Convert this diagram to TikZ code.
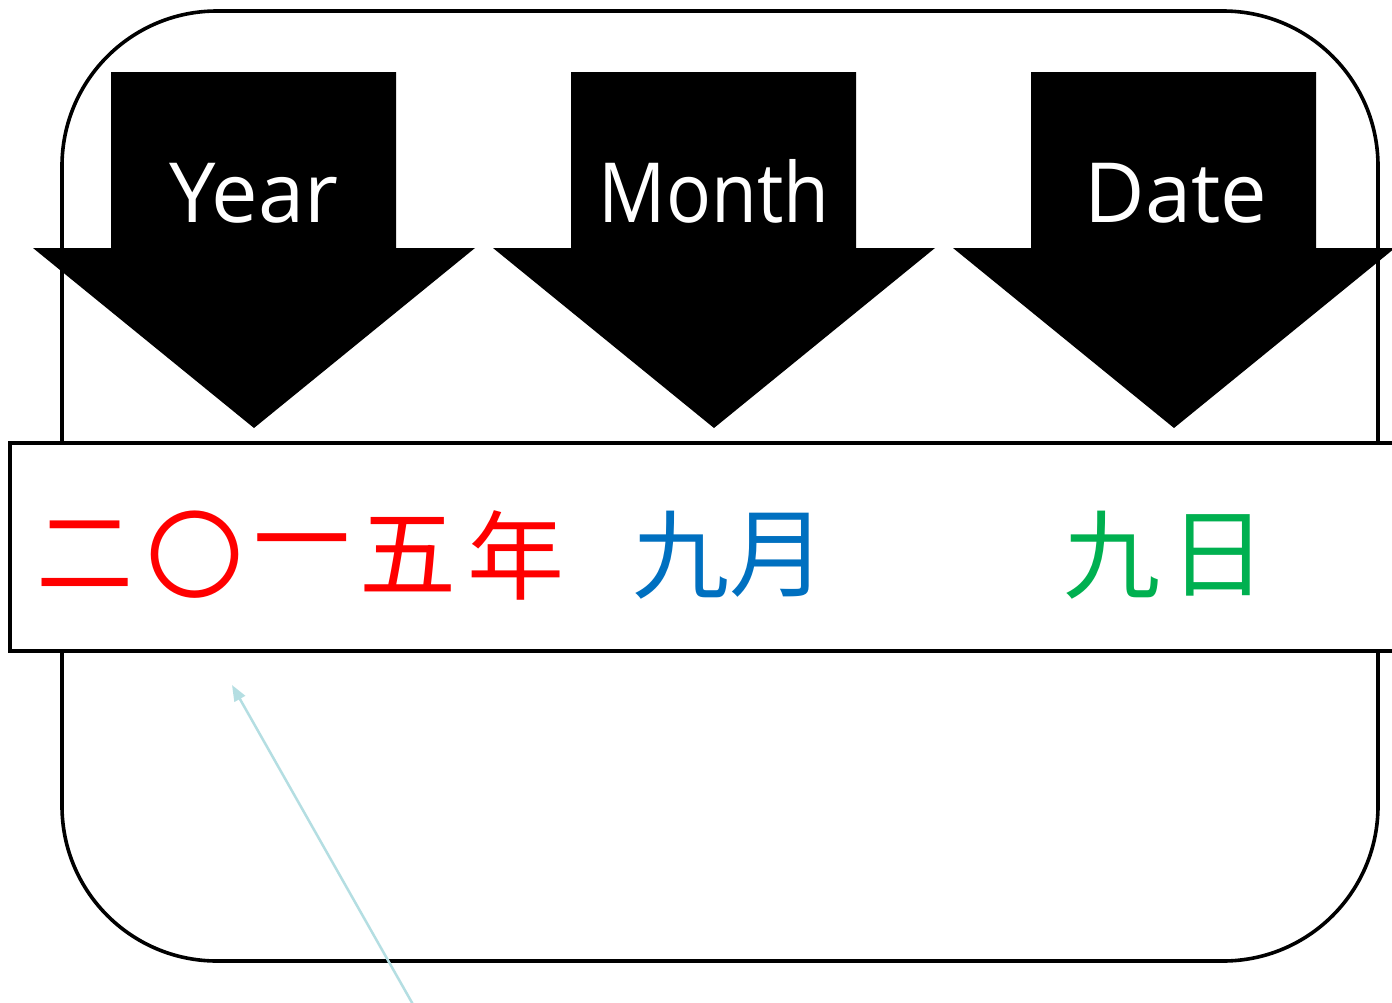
\documentclass[tikz,border=0pt]{standalone}
\usepackage{fontspec}
\newfontfamily\latfont{Open Sans}
\newfontfamily\cjk{Noto Sans CJK SC}
\usetikzlibrary{arrows.meta}
\definecolor{yearred}{RGB}{255,0,0}
\definecolor{monthblue}{RGB}{0,112,192}
\definecolor{dategreen}{RGB}{0,176,80}
\definecolor{pointer}{RGB}{180,222,226}
\tikzset{
  frame/.style={draw=black, line width=3.6pt},
  bigarrow/.style={fill=black, draw=none},
  label/.style={text=white, font=\latfont\fontsize{83}{88}\selectfont, anchor=base, inner sep=0pt},
  hanzi/.style={font=\cjk\fontsize{97}{105}\selectfont, inner sep=0pt, anchor=center},
  pointerline/.style={draw=pointer, line width=2.5pt, -{Triangle[length=16pt,width=12pt]}},
  pics/downarrow/.style={code={
    \path[bigarrow] (-143,72) -- (142,72) -- (142,248) -- (221,248) -- (0,428)
      -- (-221,248) -- (-143,248) -- cycle;
  }}
}
\begin{document}
\begin{tikzpicture}[x=1pt,y=-1pt]
\useasboundingbox[fill=white] (0,0) rectangle (1392,1002);
% outer rounded frame
\draw[frame, rounded corners=155pt] (62,11) rectangle (1378,961);
% the three arrows
\pic at (254,0) {downarrow};
\pic at (714,0) {downarrow};
\pic at (1174,0) {downarrow};
\node[label] (year) at (254,222) {Year};
\node[label, xscale=0.9, transform shape] (month) at (714,222) {Month};
\node[label] (date) at (1176,222) {Date};
% band
\draw[frame, fill=white] (10,443) rectangle (1410,651);
% characters
\node[hanzi, text=yearred] (y1) at (85,555) {二};
\node[hanzi, text=yearred] (y2) at (195,555) {〇};
\node[hanzi, text=yearred] (y3) at (302,555) {一};
\node[hanzi, text=yearred] (y4) at (408,555) {五};
\node[hanzi, text=yearred] (y5) at (516,555) {年};
\node[hanzi, text=monthblue] (m1) at (681,555) {九};
\node[hanzi, text=monthblue] (m2) at (778,555) {月};
\node[hanzi, text=dategreen] (d1) at (1112,555) {九};
\node[hanzi, text=dategreen] (d2) at (1218,555) {日};
% pointer
\coordinate (ptail) at (415,1008);
\coordinate (phead) at (232,685);
\draw[pointerline] (ptail) -- (phead);
\end{tikzpicture}
\end{document}
